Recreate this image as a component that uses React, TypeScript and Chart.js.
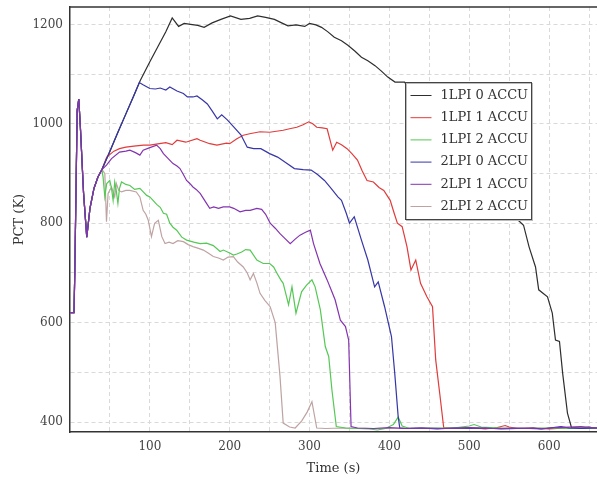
import React, { useEffect, useRef } from "react";
import { Chart, registerables } from "chart.js";

Chart.register(...registerables);

// Shared start-up transient (all cases identical until ~40 s)
const startTime = [0, 5, 6, 9, 11, 13, 17, 21, 25, 30, 35, 40];
const startPct = [620, 620, 700, 1027, 1050, 993, 860, 772, 830, 870, 893, 908];

const seriesLabels = ["1LPI 0 ACCU", "1LPI 1 ACCU", "1LPI 2 ACCU", "2LPI 0 ACCU", "2LPI 1 ACCU", "2LPI 2 ACCU"];

const lpi1acc0Time = [50, 60, 70, 80, 88, 100, 110, 120, 128, 136, 143, 151, 160, 168, 178, 189, 201, 214, 225, 235, 245, 256, 265, 273, 283, 294, 300, 308, 315, 323, 331, 340, 348, 357, 365, 373, 382, 390, 398, 407, 419, 425, 440, 460, 480, 500, 520, 540, 555, 562, 568, 575, 583, 587, 598, 604, 608, 613, 617, 623, 628, 640, 650, 660];
const lpi1acc0Pct = [945, 983, 1020, 1057, 1087, 1125, 1155, 1185, 1213, 1196, 1202, 1200, 1198, 1194, 1203, 1210, 1217, 1210, 1212, 1217, 1214, 1210, 1203, 1197, 1199, 1196, 1202, 1199, 1194, 1185, 1174, 1167, 1158, 1146, 1134, 1127, 1117, 1106, 1094, 1084, 1084, 1070, 1045, 1010, 975, 930, 885, 845, 815, 805, 796, 752, 712, 666, 652, 619, 565, 562, 498, 418, 389, 388, 390, 387];

const lpi1acc1Time = [46, 55, 62, 70, 80, 92, 100, 112, 120, 128, 134, 145, 159, 163, 175, 184, 196, 200, 209, 217, 225, 238, 250, 267, 275, 284, 292, 299, 304, 309, 316, 322, 329, 334, 340, 347, 353, 360, 366, 372, 380, 387, 393, 401, 406, 410, 416, 422, 427, 433, 439, 447, 454, 458, 463, 468, 480, 500, 520, 535, 545, 550, 560, 580, 600, 620, 640, 660];
const lpi1acc1Pct = [933, 945, 950, 953, 955, 957, 957, 960, 962, 958, 967, 963, 970, 967, 960, 957, 961, 960, 970, 977, 980, 984, 983, 987, 990, 993, 998, 1004, 1000, 993, 992, 990, 947, 963, 958, 950, 940, 927, 905, 886, 883, 872, 866, 846, 820, 800, 793, 753, 706, 726, 679, 652, 632, 525, 458, 389, 387, 389, 386, 389, 393, 390, 387, 388, 386, 388, 387, 388];

const lpi1acc2Time = [41.4, 43.6, 46, 49.8, 52, 54, 56, 58, 60, 62, 64.5, 70, 75, 81, 87.5, 96, 100, 104, 108.5, 113, 117, 121, 125, 129, 133.6, 140, 146, 155, 163, 171, 179.5, 188, 192, 200, 204.6, 209, 215, 220, 225.6, 234, 242, 250, 255, 259, 264, 267, 270, 273.7, 278, 283, 290, 296, 303, 307, 313.5, 319.7, 324, 328, 333.5, 345, 360, 375, 385, 395, 405, 411, 416, 425, 450, 480, 500, 506, 515, 540, 570, 600, 630, 660];
const lpi1acc2Pct = [893, 853, 880, 886, 870, 846, 883, 865, 840, 870, 883, 878, 876, 868, 870, 856, 853, 846, 838, 832, 820, 818, 800, 792, 786, 772, 766, 762, 759, 760, 755, 743, 746, 740, 736, 738, 742, 747, 746, 726, 719, 719, 712, 700, 686, 679, 660, 636, 672, 619, 662, 675, 686, 672, 626, 552, 532, 465, 391, 388, 387, 386, 384, 387, 395, 410, 392, 387, 388, 388, 392, 395, 390, 388, 387, 388, 387, 388];

const lpi2acc0Time = [50, 60, 70, 80, 86.8, 92, 100, 107, 113, 120, 125, 134, 142, 147, 154, 159, 166, 172, 178, 184.5, 190, 197, 205, 214, 222, 230, 239, 250, 260, 270, 281, 292, 302, 310, 318.7, 327, 335.5, 340, 346, 350, 356, 365, 373, 381.5, 386, 394, 402.6, 406.7, 411, 413, 420, 440, 460, 480, 500, 520, 540, 560, 580, 590, 600, 615, 625, 640, 660];
const lpi2acc0Pct = [945, 983, 1020, 1057, 1083, 1078, 1071, 1070, 1072, 1068, 1074, 1066, 1061, 1054, 1054, 1056, 1048, 1040, 1026, 1010, 1018, 1008, 994, 978, 953, 950, 950, 940, 933, 922, 910, 908, 907, 898, 886, 870, 853, 846, 820, 800, 813, 766, 726, 672, 682, 632, 572, 498, 411, 388, 387, 388, 386, 388, 387, 388, 386, 387, 388, 386, 388, 391, 388, 387, 388];

const lpi2acc1Time = [45.7, 52, 62, 70, 75, 82, 87.5, 91.6, 100, 108.5, 113, 117, 123, 129, 134, 137.7, 142, 146, 150, 154, 158, 163, 167, 171, 175, 180, 186, 192, 200, 205, 213, 220, 225.6, 234, 240, 245, 250.7, 257, 263, 270, 275.8, 282, 288, 295, 301, 305, 313, 322, 327, 332, 338.6, 345, 349, 352, 360, 380, 400, 420, 440, 470, 500, 530, 560, 590, 610, 640, 660];
const lpi2acc1Pct = [917, 930, 943, 945, 947, 942, 937, 947, 952, 957, 950, 940, 930, 920, 915, 910, 898, 886, 880, 873, 868, 860, 850, 840, 830, 833, 830, 833, 833, 830, 823, 826, 826, 830, 828, 818, 800, 790, 779, 768, 759, 768, 776, 782, 786, 759, 719, 686, 666, 646, 605, 592, 565, 391, 388, 387, 389, 387, 388, 387, 389, 387, 388, 386, 389, 391, 388];

const lpi2acc2Time = [43.6, 45.7, 47.7, 52, 56, 58, 61, 64.5, 70, 75, 83, 87.5, 91.6, 95, 98, 102, 106, 110.6, 115, 119, 124, 129, 135, 142, 148, 154, 160, 167, 173, 179.5, 186, 192, 198, 204.6, 210, 217, 222, 225.6, 229.7, 234, 238, 244, 250.7, 257, 263, 267, 275, 282, 290, 297, 303, 309, 320, 340, 380, 420, 460, 500, 540, 580, 620, 660];
const lpi2acc2Pct = [900, 803, 860, 873, 853, 880, 866, 863, 866, 866, 863, 853, 826, 818, 806, 773, 800, 806, 773, 759, 762, 759, 765, 763, 757, 753, 750, 746, 740, 733, 730, 726, 732, 733, 722, 712, 700, 686, 699, 680, 659, 645, 632, 600, 492, 398, 390, 388, 402, 420, 441, 388, 387, 388, 387, 388, 387, 388, 387, 388, 387, 388];

const seriesTimes = [lpi1acc0Time, lpi1acc1Time, lpi1acc2Time, lpi2acc0Time, lpi2acc1Time, lpi2acc2Time];
const seriesPcts = [lpi1acc0Pct, lpi1acc1Pct, lpi1acc2Pct, lpi2acc0Pct, lpi2acc1Pct, lpi2acc2Pct];
const seriesColors = ["#2e2e2e", "#e23b3b", "#55c855", "#3636a8", "#8434b0", "#bfa3a3"];
const drawOrder = [5, 3, 2, 1, 0, 4];

const FONT = "'DejaVu Serif', serif";

const frameAndLegend = {
  id: "frameAndLegend",
  afterDraw(chart: any) {
    const { ctx, chartArea } = chart;
    ctx.save();
    ctx.strokeStyle = "#333";
    ctx.lineWidth = 1.5;
    ctx.beginPath();
    ctx.moveTo(chartArea.left, chartArea.top);
    ctx.lineTo(chartArea.right, chartArea.top);
    ctx.stroke();

    const bx = chartArea.left + 335.5;
    const by = chartArea.top + 75.5;
    const bw = 126;
    const bh = 137;
    ctx.fillStyle = "#ffffff";
    ctx.fillRect(bx, by, bw, bh);
    ctx.strokeStyle = "#bbb";
    ctx.lineWidth = 1;
    ctx.strokeRect(bx + 1, by + 1, bw, bh);
    ctx.strokeStyle = "#444";
    ctx.strokeRect(bx, by, bw, bh);
    ctx.font = "13px " + FONT;
    ctx.textBaseline = "middle";
    ctx.textAlign = "left";
    chart.data.datasets.forEach((ds: any, i: number) => {
      const y = by + 13 + i * 22.2;
      ctx.strokeStyle = ds.borderColor;
      ctx.lineWidth = 1;
      ctx.beginPath();
      ctx.moveTo(bx + 5, y);
      ctx.lineTo(bx + 26, y);
      ctx.stroke();
      ctx.fillStyle = "#333";
      ctx.fillText(ds.label, bx + 35, y);
    });
    ctx.restore();
  },
};

export default function App() {
  const ref = useRef<HTMLCanvasElement | null>(null);

  useEffect(() => {
    document.body.style.margin = "0";
    const canvas = ref.current;
    if (!canvas) return;
    const datasets = seriesLabels.map((label, i) => {
      const times = [...startTime, ...seriesTimes[i]];
      const pcts = [...startPct, ...seriesPcts[i]];
      return {
        label,
        data: times.map((t, k) => ({ x: t, y: pcts[k] })),
        borderColor: seriesColors[i],
        backgroundColor: seriesColors[i],
        borderWidth: 1.2,
        pointRadius: 0,
        tension: 0,
        fill: false,
        order: drawOrder[i],
      };
    });

    const chart = new Chart(canvas, {
      type: "line",
      data: { datasets },
      options: {
        animation: false,
        responsive: false,
        devicePixelRatio: 1,
        layout: { padding: { top: 7, left: 0, right: 0, bottom: 0 } },
        plugins: { legend: { display: false }, tooltip: { enabled: false } },
        scales: {
          x: {
            type: "linear",
            min: 0,
            max: 660,
            afterBuildTicks: (scale: any) => {
              scale.ticks = scale.ticks.filter((t: any) => t.value % 50 === 0 && t.value > 0);
            },
            afterFit: (scale: any) => {
              scale.height = 50;
              scale.paddingLeft = 0;
              scale.paddingRight = 0;
            },
            ticks: {
              stepSize: 50,
              includeBounds: false,
              autoSkip: false,
              maxRotation: 0,
              padding: 8,
              color: "#444",
              font: { family: FONT, size: 12 },
              callback: (v: any) => (Number(v) % 100 === 0 ? String(v) : ""),
            },
            grid: { color: "#d9d9d9", drawTicks: false, lineWidth: 1 },
            border: { display: true, color: "#333", width: 1.5, dash: [4, 3] },
            title: {
              display: true,
              text: "Time (s)",
              color: "#333",
              font: { family: FONT, size: 13 },
              padding: { top: 0, bottom: 6 },
            },
          },
          y: {
            type: "linear",
            min: 380,
            max: 1235,
            afterBuildTicks: (scale: any) => {
              scale.ticks = scale.ticks.filter((t: any) => t.value % 100 === 0);
            },
            afterFit: (scale: any) => {
              scale.width = 70;
              scale.paddingTop = 0;
              scale.paddingBottom = 0;
            },
            ticks: {
              stepSize: 100,
              includeBounds: false,
              autoSkip: false,
              padding: 7,
              color: "#444",
              font: { family: FONT, size: 12 },
              callback: (v: any) => (Number(v) % 200 === 0 ? String(v) : ""),
            },
            grid: { color: "#d9d9d9", drawTicks: false, lineWidth: 1 },
            border: { display: true, color: "#333", width: 1.5, dash: [4, 3] },
            title: {
              display: true,
              text: "PCT (K)",
              color: "#333",
              font: { family: FONT, size: 13 },
              padding: { top: 12, bottom: 0 },
            },
          },
        },
      } as any,
      plugins: [frameAndLegend],
    });

    return () => chart.destroy();
  }, []);

  return <canvas ref={ref} width={597} height={482} style={{ display: "block", width: 597, height: 482 }} />;
}
